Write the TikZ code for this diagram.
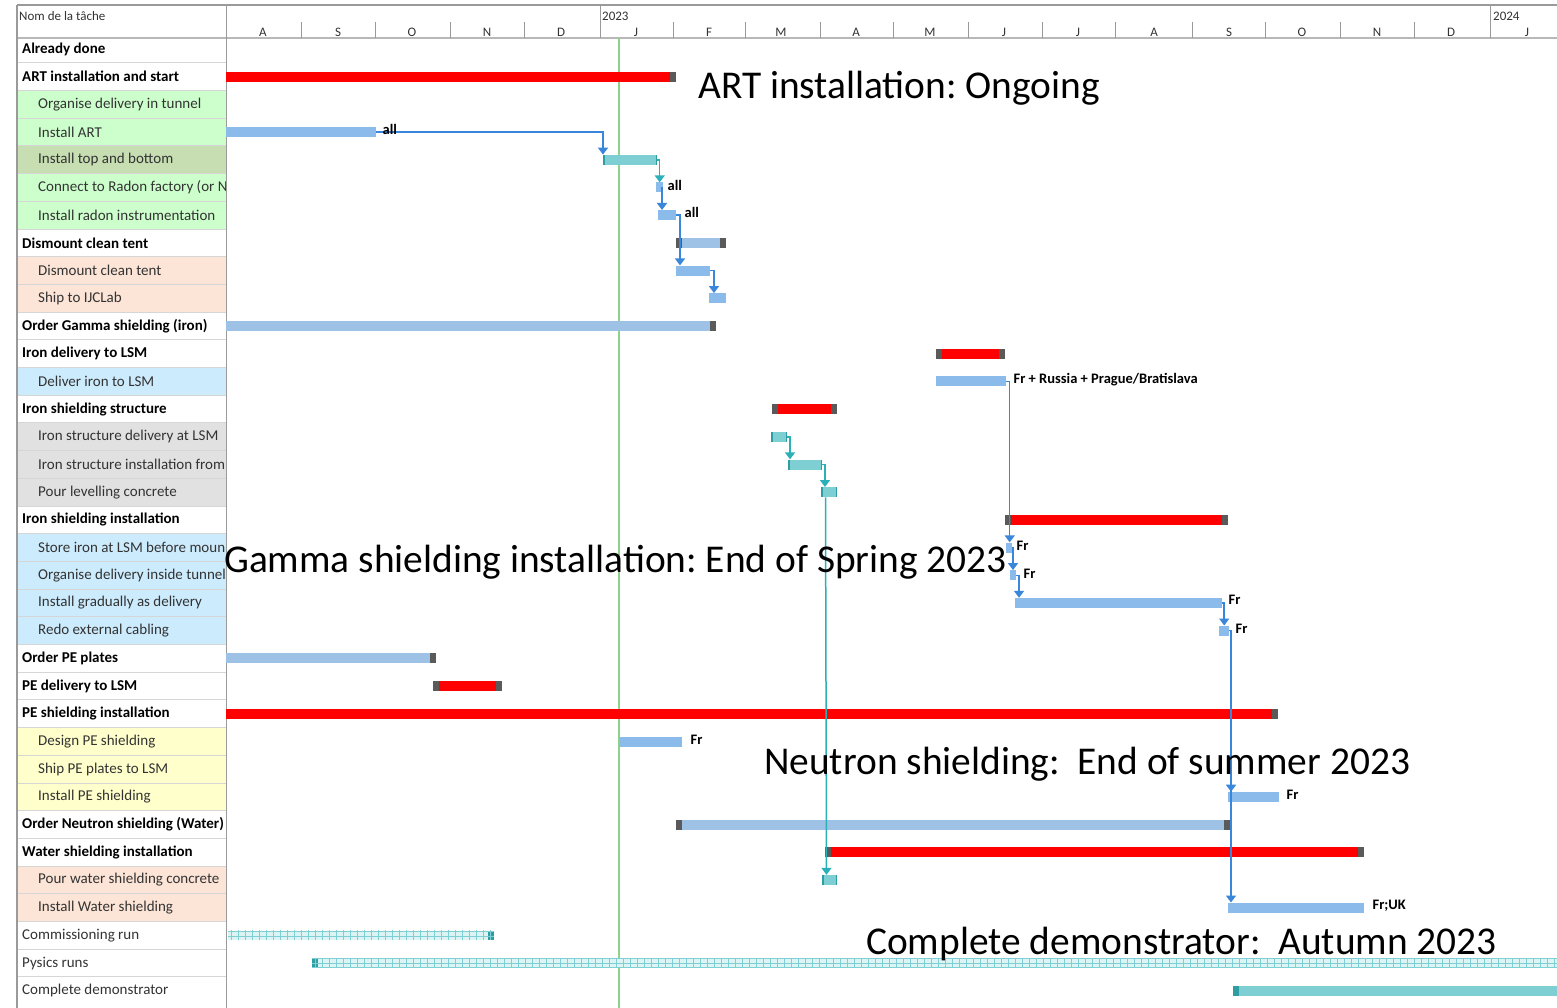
\documentclass[tikz,border=0pt]{standalone}
\usepackage{fontspec}
\setmainfont{Carlito}
\usepackage{xcolor}
\usepackage{tikz}
\usetikzlibrary{positioning,arrows.meta,patterns}
\definecolor{artred}{HTML}{FF0000}
\definecolor{capgray}{HTML}{5A5A5A}
\definecolor{taskblue}{HTML}{8BBBEA}
\definecolor{sumblue}{HTML}{9EC2E6}
\definecolor{tealbar}{HTML}{7DCFD4}
\definecolor{tealdark}{HTML}{2E9EA3}
\definecolor{tealpale}{HTML}{DDF4F5}
\definecolor{linkblue}{HTML}{3A86DA}
\definecolor{linkteal}{HTML}{2BB0B8}
\definecolor{todaygreen}{HTML}{8ED38A}
\definecolor{rowgreen}{HTML}{CCFFCC}
\definecolor{rowolive}{HTML}{C6DEB2}
\definecolor{rowpeach}{HTML}{FCE4D6}
\definecolor{rowblue}{HTML}{CCEBFD}
\definecolor{rowgray}{HTML}{E1E1E1}
\definecolor{rowyellow}{HTML}{FFFFCC}
\definecolor{gridgray}{HTML}{D6D6D6}
\definecolor{framegray}{HTML}{9A9A9A}
\definecolor{inkdark}{HTML}{333333}
% cells of the run bars
\pgfdeclarepatternformonly{runcells}{\pgfqpoint{-1pt}{-1pt}}{\pgfqpoint{8pt}{5.5pt}}{\pgfqpoint{7pt}{4.5pt}}{
  \pgfsetlinewidth{0.9pt}
  \pgfpathmoveto{\pgfqpoint{0pt}{0pt}}\pgfpathlineto{\pgfqpoint{0pt}{4.6pt}}
  \pgfpathmoveto{\pgfqpoint{0pt}{0pt}}\pgfpathlineto{\pgfqpoint{7.1pt}{0pt}}
  \pgfusepath{stroke}}

\begin{document}
\frenchspacing
\begin{tikzpicture}[x=1pt,y=-1pt,>={Triangle[width=10pt,length=7pt]},
  declare function={row(\i)=49+27.7*\i;},
  gbar/.style={anchor=west,inner sep=0pt,minimum height=10pt,draw=none},
  red/.style={gbar,fill=artred},
  task/.style={gbar,fill=taskblue},
  sum/.style={gbar,fill=sumblue},
  teal/.style={gbar,fill=tealbar,path picture={
      \draw[tealdark,line width=1.6pt] ([xshift=0.8pt]path picture bounding box.north west) -- ([xshift=0.8pt]path picture bounding box.south west);
      \draw[tealdark,line width=1.6pt] ([xshift=-0.8pt]path picture bounding box.north east) -- ([xshift=-0.8pt]path picture bounding box.south east);}},
  hatch/.style={gbar,minimum height=9pt,fill=tealpale,postaction={pattern=runcells,pattern color=tealbar}},
  capR/.style={path picture={\fill[#1] ([xshift=-6pt]path picture bounding box.north east) rectangle (path picture bounding box.south east);}},
  capR/.default=capgray,
  capL/.style={path picture={\fill[#1] (path picture bounding box.north west) rectangle ([xshift=6pt]path picture bounding box.south west);}},
  capL/.default=capgray,
  capLR/.style={path picture={\fill[capgray] (path picture bounding box.north west) rectangle ([xshift=6pt]path picture bounding box.south west);
      \fill[capgray] ([xshift=-6pt]path picture bounding box.north east) rectangle (path picture bounding box.south east);}},
  link/.style={->,linkblue,line width=1.5pt},
  linkt/.style={->,linkteal,line width=1.5pt},
  tag/.style={anchor=west,inner sep=0pt,font=\fontsize{14.5}{16}\selectfont\bfseries,text=black},
  hd/.style={anchor=west,inner sep=0pt,font=\fontsize{15}{17}\selectfont\bfseries,text=black},
  sb/.style={anchor=west,inner sep=0pt,font=\fontsize{15}{17}\selectfont,text=inkdark,xshift=16pt},
  pl/.style={anchor=west,inner sep=0pt,font=\fontsize{15}{17}\selectfont,text=inkdark},
  mon/.style={inner sep=0pt,font=\fontsize{13}{15}\selectfont,text=inkdark},
  big/.style={anchor=base west,inner sep=0pt,font=\fontsize{39.4}{46}\selectfont,text=black}]
  \useasboundingbox (0,0) rectangle (1557,1008);
  \fill[white] (0,0) rectangle (1557,1008);
  % task column backgrounds
  \foreach \i/\bg in {2/rowgreen,3/rowgreen,4/rowolive,5/rowgreen,6/rowgreen,8/rowpeach,9/rowpeach,
      12/rowblue,14/rowgray,15/rowgray,16/rowgray,18/rowblue,19/rowblue,20/rowblue,21/rowblue,
      25/rowyellow,26/rowyellow,27/rowyellow,30/rowpeach,31/rowpeach}
    \fill[\bg] (17,{row(\i)-13.85}) rectangle (226,{row(\i)+13.85});
  \foreach \i in {0,...,33}
    \draw[gridgray,line width=1pt] (17,{row(\i)+13.85}) -- (226,{row(\i)+13.85});
  % task names
  \begin{scope}
    \clip (17,35) rectangle (225,1008);
    \foreach \i/\sty/\txt in {0/hd/Already done,1/hd/ART installation and start,
        2/sb/Organise delivery in tunnel,3/sb/Install ART,4/sb/Install top and bottom,
        5/sb/Connect to Radon factory (or N,6/sb/Install radon instrumentation,
        7/hd/Dismount clean tent,8/sb/Dismount clean tent,9/sb/Ship to IJCLab,
        10/hd/Order Gamma shielding (iron),11/hd/Iron delivery to LSM,12/sb/Deliver iron to LSM,
        13/hd/Iron shielding structure,14/sb/Iron structure delivery at LSM,
        15/sb/Iron structure installation from,16/sb/Pour levelling concrete,
        17/hd/Iron shielding installation,18/sb/Store iron at LSM before moun,
        19/sb/Organise delivery inside tunnel,20/sb/Install gradually as delivery,
        21/sb/Redo external cabling,22/hd/Order PE plates,23/hd/PE delivery to LSM,
        24/hd/PE shielding installation,25/sb/Design PE shielding,26/sb/Ship PE plates to LSM,
        27/sb/Install PE shielding,28/hd/Order Neutron shielding (Water),
        29/hd/Water shielding installation,30/sb/Pour water shielding concrete,
        31/sb/Install Water shielding,32/pl/Commissioning run,33/pl/Pysics runs,
        34/pl/Complete demonstrator}
      \node[\sty] (lab\i) at (22,{row(\i)}) {\txt};
  \end{scope}
  % header
  \draw[framegray,line width=2pt] (17,5) -- (1557,5);
  \draw[framegray!70,line width=2pt] (17,38) -- (1557,38);
  \draw[framegray,line width=1.5pt] (17,5) -- (17,1008);
  \draw[framegray,line width=1pt] (226,5) -- (226,1008);
  \draw[framegray,line width=1pt] (600,5) -- (600,38);
  \draw[framegray,line width=1pt] (1490,5) -- (1490,38);
  \foreach \x in {301,375,450,524,673,745,820,893,968,1042,1115,1192,1265,1340,1414}
    \draw[framegray,line width=1pt] (\x,22) -- (\x,38);
  \node[mon,anchor=west] (title) at (19,16) {Nom de la tâche};
  \node[mon,anchor=west] (y2023) at (602,16) {2023};
  \node[mon,anchor=west] (y2024) at (1493,16) {2024};
  \foreach \x/\l [count=\k] in {263/A,338/S,412/O,487/N,561/D,636/J,709/F,781/M,856/A,930/M,
      1004/J,1078/J,1154/A,1229/S,1302/O,1377/N,1451/D,1527/J}
    \node[mon] (mon\k) at (\x,32) {\l};
  % status date
  \draw[todaygreen,line width=1.2pt] (619,38) -- (619,1008);
  % bars
  \node[red,capR,minimum width=450] (b1) at (226,{row(1)}) {};
  \node[task,minimum width=150] (b3) at (226,{row(3)}) {};
  \node[teal,minimum width=54] (b4) at (603,{row(4)}) {};
  \node[task,minimum width=7] (b5) at (656,{row(5)}) {};
  \node[task,minimum width=18] (b6) at (658,{row(6)}) {};
  \node[sum,capLR,minimum width=50] (b7) at (676,{row(7)}) {};
  \node[task,minimum width=34] (b8) at (676,{row(8)}) {};
  \node[task,minimum width=17] (b9) at (709,{row(9)}) {};
  \node[sum,capR,minimum width=490] (b10) at (226,{row(10)}) {};
  \node[red,capLR,minimum width=69] (b11) at (936,{row(11)}) {};
  \node[task,minimum width=70] (b12) at (936,{row(12)}) {};
  \node[red,capLR,minimum width=65] (b13) at (772,{row(13)}) {};
  \node[teal,minimum width=16] (b14) at (771,{row(14)}) {};
  \node[teal,minimum width=34] (b15) at (788,{row(15)}) {};
  \node[teal,minimum width=16] (b16) at (821,{row(16)}) {};
  \node[red,capLR,minimum width=223] (b17) at (1005,{row(17)}) {};
  \node[task,minimum width=6] (b18) at (1006,{row(18)}) {};
  \node[task,minimum width=6] (b19) at (1010,{row(19)}) {};
  \node[task,minimum width=207] (b20) at (1015,{row(20)}) {};
  \node[task,minimum width=10] (b21) at (1219,{row(21)}) {};
  \node[sum,capR,minimum width=210] (b22) at (226,{row(22)}) {};
  \node[red,capLR,minimum width=69] (b23) at (433,{row(23)}) {};
  \node[red,capR,minimum width=1052] (b24) at (226,{row(24)}) {};
  \node[task,minimum width=63] (b25) at (619,{row(25)}) {};
  \node[task,minimum width=51] (b27) at (1228,{row(27)}) {};
  \node[sum,capLR,minimum width=554] (b28) at (676,{row(28)}) {};
  \node[red,capLR,minimum width=539] (b29) at (825,{row(29)}) {};
  \node[teal,minimum width=15] (b30) at (822,{row(30)}) {};
  \node[task,minimum width=136] (b31) at (1228,{row(31)}) {};
  \node[hatch,capR=tealdark,minimum width=266] (b32) at (228,{row(32)}) {};
  \node[hatch,capL=tealdark,minimum width=1245] (b33) at (312,{row(33)}) {};
  \node[gbar,fill=tealbar,capL=tealdark,minimum width=324] (b34) at (1233,{row(34)}) {};
  % links
  \draw[link] (b3.east) -| (b4.north west);
  \draw[linkt] (b4.east) -| (b5.north);
  \draw[link] (b5.east) -| ([xshift=4pt]b6.north west);
  \draw[link] (b6.east) -| ([xshift=4pt]b8.north west);
  \draw[link] (b8.east) -| ([xshift=5pt]b9.north west);
  \draw[link] (b12.east) -| ([xshift=0.5pt]b18.north);
  \draw[linkt] (b14.east) -| ([xshift=2pt]b15.north west);
  \draw[linkt] (b15.east) -| ([xshift=4pt]b16.north west);
  \draw[linkt] ([xshift=4.5pt]b16.south west) -- ([xshift=4.5pt]b30.north west);
  \draw[link] (b18.east) -| ([xshift=3pt]b19.north west);
  \draw[link] (b19.east) -| ([xshift=4pt]b20.north west);
  \draw[link] (b20.east) -| (b21.north);
  \draw[link] (b21.east) -| ([xshift=3pt]b27.north west);
  \draw[link] (b21.east) -| ([xshift=3pt]b31.north west);
  % resource tags
  \node[tag] (t3) at ([xshift=6pt,yshift=3pt]b3.east) {all};
  \node[tag] (t5) at ([xshift=4pt,yshift=2pt]b5.east) {all};
  \node[tag] (t6) at ([xshift=8pt,yshift=3pt]b6.east) {all};
  \node[tag] (t12) at ([xshift=7pt,yshift=2pt]b12.east) {Fr + Russia + Prague/Bratislava};
  \node[tag] (t18) at ([xshift=4pt,yshift=2pt]b18.east) {Fr};
  \node[tag] (t19) at ([xshift=7pt,yshift=2pt]b19.east) {Fr};
  \node[tag] (t20) at ([xshift=6pt,yshift=3pt]b20.east) {Fr};
  \node[tag] (t21) at ([xshift=6pt,yshift=2pt]b21.east) {Fr};
  \node[tag] (t25) at ([xshift=8pt,yshift=2pt]b25.east) {Fr};
  \node[tag] (t27) at ([xshift=7pt,yshift=2pt]b27.east) {Fr};
  \node[tag] (t31) at ([xshift=8pt,yshift=2pt]b31.east) {Fr;UK};
  % milestones written over the chart
  \node[big] (n1) at (698,99) {ART installation: Ongoing};
  \node[big] (n2) at (224,572) {Gamma shielding installation: End of Spring 2023};
  \node[big] (n3) at (764,774) {Neutron shielding:~ End of summer 2023};
  \node[big] (n4) at (866,954) {Complete demonstrator:~ Autumn 2023};
\end{tikzpicture}
\end{document}
